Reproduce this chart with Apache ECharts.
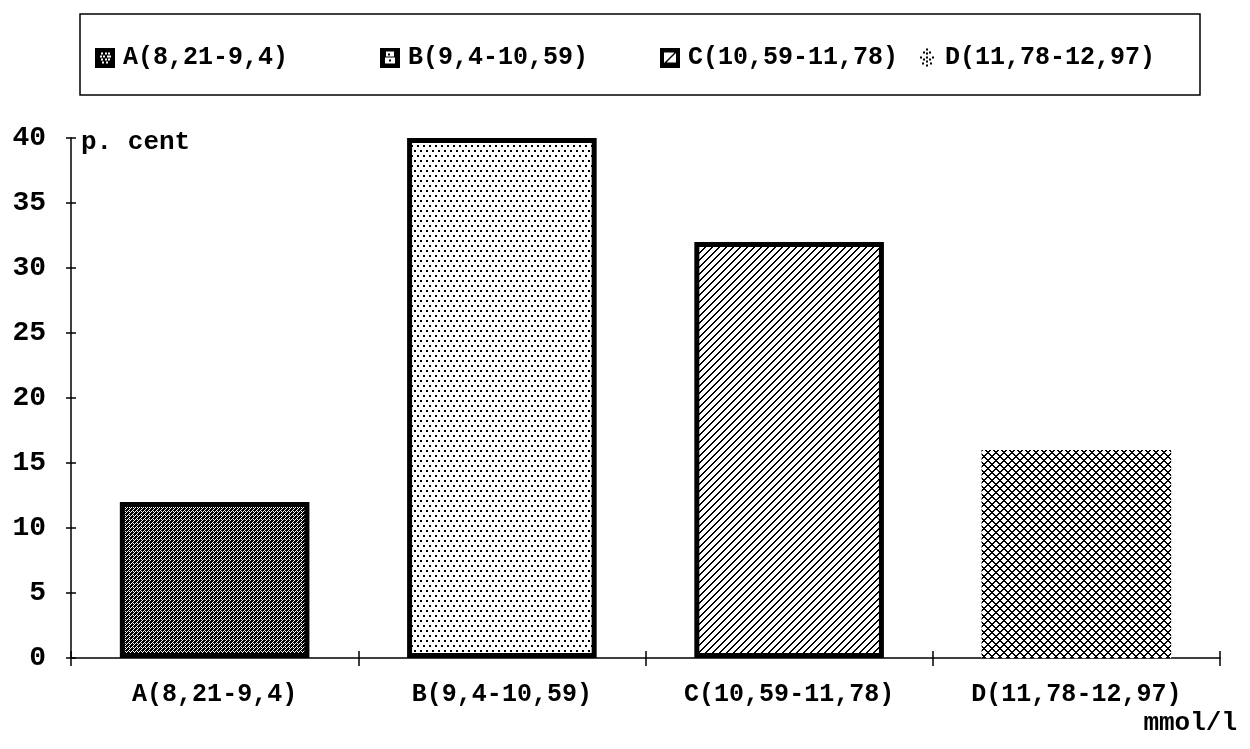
<!DOCTYPE html>
<html>
<head>
<meta charset="utf-8">
<script src="https://cdn.jsdelivr.net/npm/echarts@6/dist/echarts.min.js"></script>
<style>
  html, body { margin: 0; padding: 0; background: #fff; }
  #chart { width: 1250px; height: 749px; }
</style>
</head>
<body>
<div id="chart"></div>
<script>
// Glucose ranges (mmol/l) and share of cases in each range (per cent)
const categories = ['A(8,21-9,4)', 'B(9,4-10,59)', 'C(10,59-11,78)', 'D(11,78-12,97)'];
const percents = [12, 40, 32, 16];
const yTickValues = [0, 5, 10, 15, 20, 25, 30, 35, 40];
const yAxisTitle = 'p. cent';
const xAxisTitle = 'mmol/l';

const FONT = '"Liberation Mono", "DejaVu Sans Mono", monospace';

// ---- bitmap fill patterns -------------------------------------------------
function tile(w, h, bg, fg, painter) {
  const c = document.createElement('canvas');
  c.width = w; c.height = h;
  const g = c.getContext('2d');
  g.fillStyle = bg; g.fillRect(0, 0, w, h);
  g.fillStyle = fg;
  painter(g, w, h);
  return c;
}
function fromMask(rows, bg, fg) {
  return tile(rows[0].length, rows.length, bg, fg, (g) => {
    rows.forEach((r, y) => { for (let x = 0; x < r.length; x++) if (r[x] === '1') g.fillRect(x, y, 1, 1); });
  });
}
// dense dark weave
const patA = fromMask(['1101', '1011', '0111', '1010'], '#fff', '#000');
// offset dot screen
const patB = tile(6, 10, '#fff', '#000', (g) => { g.fillRect(0, 0, 2, 2); g.fillRect(3, 5, 2, 2); });
// forward diagonal hatching
const patC = tile(7, 7, '#fff', '#000', (g, w) => {
  for (let x = 0; x < w; x++) { const y = w - 1 - x; g.fillRect(x, y, 1, 1); g.fillRect(x, (y + 1) % w, 1, 1); }
});
// cross hatching
const patD = tile(8, 8, '#fff', '#000', (g, w) => {
  for (let x = 0; x < w; x++) {
    g.fillRect(x, x, 1, 1); g.fillRect(x, (x + 1) % w, 1, 1);
    const y = w - 1 - x; g.fillRect(x, y, 1, 1); g.fillRect(x, (y + 1) % w, 1, 1);
  }
});
const patterns = [patA, patB, patC, patD];

// legend swatches: small squares carrying a reversed glyph of each fill
function swatch(kind) {
  const c = document.createElement('canvas');
  c.width = 20; c.height = 20;
  const g = c.getContext('2d');
  const dark = kind !== 3;
  g.fillStyle = dark ? '#000' : '#fff';
  g.fillRect(0, 0, 20, 20);
  g.fillStyle = dark ? '#fff' : '#000';
  if (kind === 0) {
    [[6,5],[10,5],[13,5],[5,8],[8,8],[12,8],[14,8],[6,11],[10,11],[13,11],[7,14],[11,14]].forEach(([x,y]) => g.fillRect(x, y, 2, 2));
  } else if (kind === 1) {
    g.fillRect(6, 4, 8, 5); g.fillRect(5, 10, 10, 6); g.fillStyle = '#000'; g.fillRect(8, 6, 2, 2); g.fillRect(9, 12, 2, 2);
  } else if (kind === 2) {
    g.fillRect(4, 5, 12, 10);
    g.fillStyle = '#000';
    for (let i = 0; i < 10; i++) { g.fillRect(5 + i, 14 - i, 2, 1); }
  } else {
    [[9,1],[6,4],[12,4],[9,5],[3,9],[9,9],[15,9],[6,11],[12,11],[9,13],[5,15],[13,15],[9,17]].forEach(([x,y]) => g.fillRect(x, y, 2, 2));
  }
  return 'image://' + c.toDataURL();
}

const chart = echarts.init(document.getElementById('chart'), null, { renderer: 'canvas' });

// one series per range so each gets its own legend entry and fill
const series = categories.map((name, i) => ({
  type: 'bar',
  name: name,
  data: categories.map((_, j) => (j === i ? percents[i] : '-')),
  barWidth: '66%',
  barGap: '-100%',
  itemStyle: {
    color: { image: patterns[i], repeat: 'repeat' },
    borderColor: '#000',
    borderWidth: i === 3 ? 0 : 5
  },
  emphasis: { disabled: true },
  animation: false
}));

const legendLeft = [90, 375, 655, 912];
const legends = categories.map((name, i) => ({
  left: legendLeft[i],
  top: 40,
  selectedMode: false,
  itemWidth: 20,
  itemHeight: 20,
  data: [{ name: name, icon: swatch(i) }],
  textStyle: { fontFamily: FONT, fontSize: 25, fontWeight: 'bold', color: '#000', padding: [0, 0, 0, 3] }
}));

const axisLineStyle = { color: '#000', width: 1.5 };

chart.setOption({
  backgroundColor: '#fff',
  animation: false,
  grid: { left: 71, right: 30, top: 138, bottom: 91, containLabel: false },
  legend: legends,
  graphic: [{
    type: 'rect',
    shape: { x: 80, y: 14, width: 1120, height: 81 },
    style: { fill: 'none', stroke: '#000', lineWidth: 1.5 },
    silent: true
  }],
  xAxis: [{
    type: 'category',
    data: categories,
    boundaryGap: true,
    axisLine: { show: true, lineStyle: axisLineStyle },
    axisTick: { show: true, alignWithLabel: false, length: 8, lineStyle: axisLineStyle },
    axisLabel: { fontFamily: FONT, fontSize: 25, fontWeight: 'bold', color: '#000', margin: 24 },
    splitLine: { show: false },
    name: xAxisTitle,
    nameLocation: 'end',
    nameGap: 17,
    nameTextStyle: { fontFamily: FONT, fontSize: 26, fontWeight: 'bold', color: '#000', align: 'right', verticalAlign: 'top', padding: [52, 0, 0, 0] }
  }, {
    type: 'category',
    data: categories,
    position: 'bottom',
    boundaryGap: true,
    axisLine: { show: false },
    axisTick: { show: true, inside: true, alignWithLabel: false, length: 7, lineStyle: axisLineStyle },
    axisLabel: { show: false },
    splitLine: { show: false }
  }],
  yAxis: [{
    type: 'value',
    min: yTickValues[0],
    max: yTickValues[yTickValues.length - 1],
    interval: yTickValues[1] - yTickValues[0],
    axisLine: { show: true, lineStyle: axisLineStyle },
    axisTick: { show: true, length: 5, lineStyle: axisLineStyle },
    axisLabel: { fontFamily: FONT, fontSize: 28, fontWeight: 'bold', color: '#000', margin: 25 },
    splitLine: { show: false },
    name: yAxisTitle,
    nameLocation: 'end',
    nameGap: -4,
    nameTextStyle: { fontFamily: FONT, fontSize: 26, fontWeight: 'bold', color: '#000', align: 'left', verticalAlign: 'middle', padding: [0, 0, 0, 10] }
  }, {
    type: 'value',
    position: 'left',
    min: yTickValues[0],
    max: yTickValues[yTickValues.length - 1],
    interval: yTickValues[1] - yTickValues[0],
    axisLine: { show: false },
    axisTick: { show: true, inside: true, length: 5, lineStyle: axisLineStyle },
    axisLabel: { show: false },
    splitLine: { show: false }
  }],
  series: series
});
</script>
</body>
</html>
